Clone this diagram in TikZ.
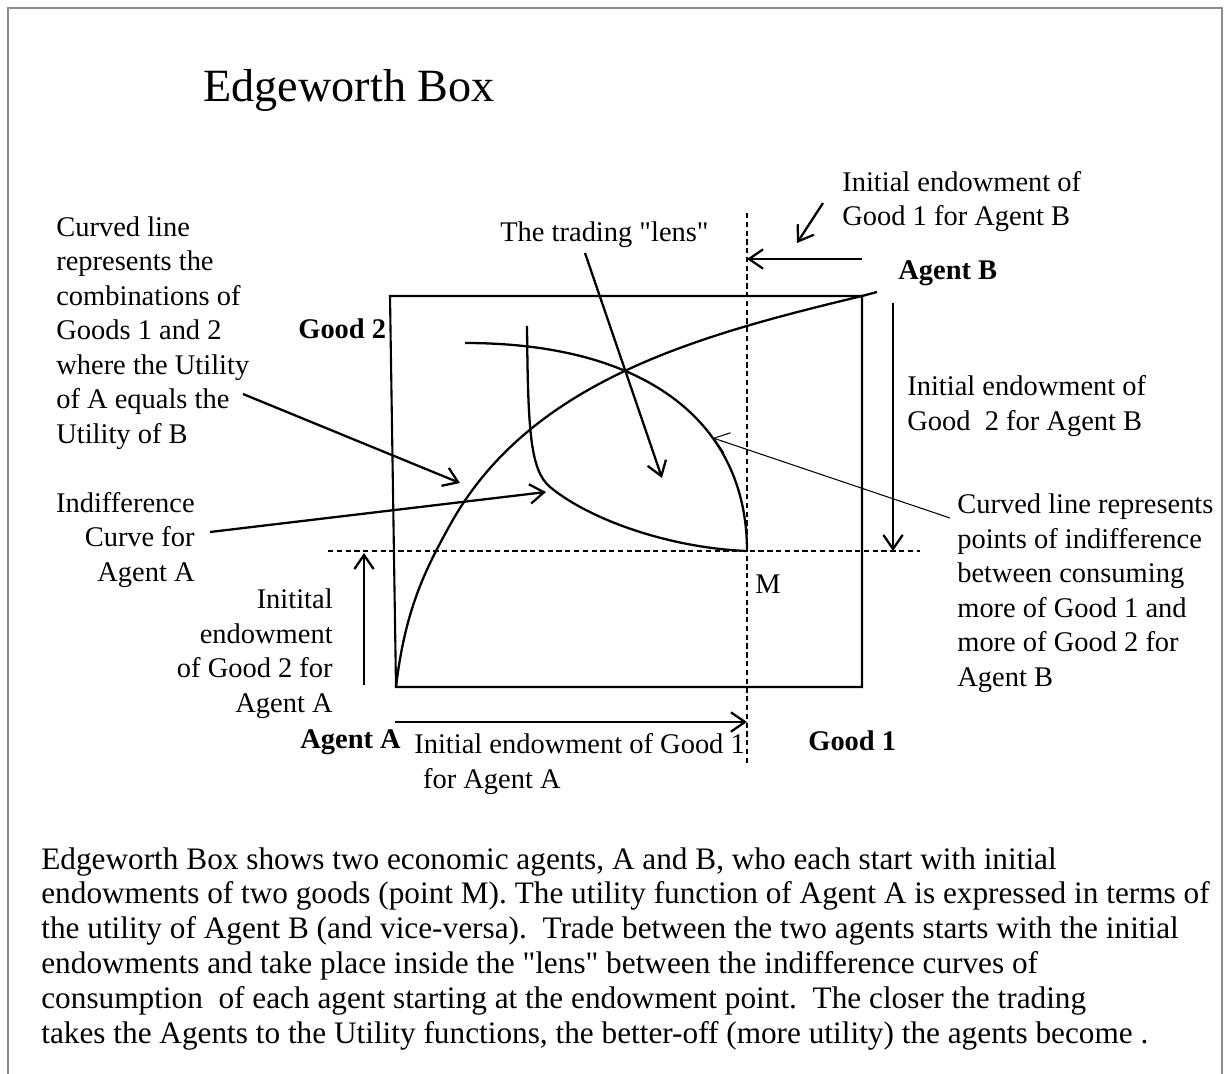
\documentclass[tikz,border=0pt]{standalone}
\usepackage{fontspec}
\setmainfont{Liberation Serif}[Ligatures=TeXOff]
\usepackage{tikz}
\usetikzlibrary{arrows.meta}
\newcommand\lblfont{\fontsize{16.2}{19.6}\selectfont}
\newcommand\parfont{\fontsize{17.8}{19.8}\selectfont}
\newcommand\titlefont{\fontsize{26.3}{30}\selectfont}
\tikzstyle{lbl}=[inner sep=0pt, font=\lblfont, align=left]
\tikzstyle{boldlbl}=[inner sep=0pt, font=\lblfont\bfseries]
\tikzstyle{para}=[inner sep=0pt, font=\parfont, align=left]
\tikzstyle{arr}=[line width=1.3pt, -{Straight Barb[length=8pt,width=11pt]}]
\tikzstyle{thinarr}=[line width=0.6pt, -{Straight Barb[length=8pt,width=12pt]}]
\tikzstyle{guide}=[line width=1pt, dash pattern=on 3pt off 2pt]
\tikzstyle{curve}=[line width=1.3pt]
\tikzstyle{frame}=[line width=1.2pt, draw=black!45]

\begin{document}
\begin{tikzpicture}[x=0.02cm, y=-0.02cm]
\useasboundingbox (0,0) rectangle (1230,1074);
\draw[frame] (8,1074) -- (8,8) -- (1222,8) -- (1222,1074);

\coordinate (OA) at (396,687);
\coordinate (TL) at (390,296);
\coordinate (OB) at (862,296);
\coordinate (BR) at (862,687);
\coordinate (M) at (747,551);
\draw[line width=1.2pt] (TL) -- (OB) -- (BR) -- (OA) -- cycle;

\coordinate (vtop) at (747,213);
\coordinate (vbot) at (747,765);
\coordinate (hleft) at (328,551);
\coordinate (hright) at (920,551);
\draw[guide] (vtop) -- (vbot);
\draw[guide] (hleft) -- (hright);

\draw[curve] (OA) .. controls (405,610) and (425,570) .. (450,525) .. controls (530,380) and (700,335) .. (OB) -- (877,292);
\draw[curve] (465,343) .. controls (650,343) and (747,425) .. (M);
\draw[curve] (527,326) .. controls (528,430) and (530,470) .. (550,487) .. controls (590,520) and (670,548) .. (M);

\node[inner sep=0pt, font=\titlefont, anchor=base west] (title) at (203,102) {Edgeworth Box};
\node[lbl, anchor=base west] (lens) at (500,242) {The trading "lens"};
\node[lbl, anchor=base west] (contract) at (56,443) {Curved line\\represents the\\combinations of\\Goods 1 and 2\\where the Utility\\of A equals the\\Utility of B};
\node[lbl, align=right, anchor=base east] (indA) at (195,581) {Indifference\\Curve for\\Agent A};
\node[lbl, align=right, anchor=base east] (endA2) at (333,712) {Initital\\endowment\\of Good 2 for\\Agent A};
\node[boldlbl, anchor=base west] (good2) at (298,338) {Good 2};
\node[boldlbl, anchor=base west] (agentA) at (300,748) {Agent A};
\node[lbl, anchor=base west] (endA1) at (414,788) {Initial endowment of Good 1\\\hspace*{5pt}for Agent A};
\node[boldlbl, anchor=base west] (good1) at (808,750) {Good 1};
\node[lbl, anchor=base west] (mlbl) at (755,593) {M};
\node[lbl, anchor=base west] (endB1) at (842,226) {Initial endowment of\\Good 1 for Agent B};
\node[boldlbl, anchor=base west] (agentB) at (898,280) {Agent B};
\node[lbl, anchor=base west] (endB2) at (907,430) {Initial endowment of\\Good\ \ 2 for Agent B};
\node[lbl, anchor=base west] (indB) at (957,686) {Curved line represents\\points of indifference\\between consuming\\more of Good 1 and\\more of Good 2 for\\Agent B};
\node[para, anchor=base west] (summary) at (41,1043) {Edgeworth Box shows two economic agents, A and B, who each start with initial\\endowments of two goods (point M). The utility function of Agent A is expressed in terms of\\the utility of Agent B (and vice-versa).\ \ Trade between the two agents starts with the initial\\endowments and take place inside the "lens" between the indifference curves of\\consumption\ \ of each agent starting at the endowment point.\ \ The closer the trading\\takes the Agents to the Utility functions, the better-off (more utility) the agents become .};

\coordinate (lensTail) at (585,253);
\coordinate (lensTip) at (662,478);
\coordinate (contractTail) at (243,394);
\coordinate (contractTip) at (460,483);
\coordinate (indATail) at (210,532);
\coordinate (indATip) at (546,492);
\coordinate (indBTail) at (950,518);
\coordinate (indBTip) at (713,438);
\coordinate (endB1Tail) at (862,259);
\coordinate (endB1Tip) at (747,259);
\coordinate (endB1NoteTail) at (823,203);
\coordinate (endB1NoteTip) at (797,243);
\coordinate (endB2Tail) at (893,303);
\coordinate (endB2Tip) at (893,551);
\coordinate (endA2Tail) at (364,685);
\coordinate (endA2Tip) at (364,553);
\coordinate (endA1Tail) at (395,722);
\coordinate (endA1Tip) at (747,722);

\draw[arr] (lensTail) -- (lensTip);
\draw[arr] (contractTail) -- (contractTip);
\draw[arr] (indATail) -- (indATip);
\draw[thinarr] (indBTail) -- (indBTip);
\draw[arr] (endB1Tail) -- (endB1Tip);
\draw[arr] (endB1NoteTail) -- (endB1NoteTip);
\draw[arr] (endB2Tail) -- (endB2Tip);
\draw[arr] (endA2Tail) -- (endA2Tip);
\draw[arr] (endA1Tail) -- (endA1Tip);
\end{tikzpicture}
\end{document}
